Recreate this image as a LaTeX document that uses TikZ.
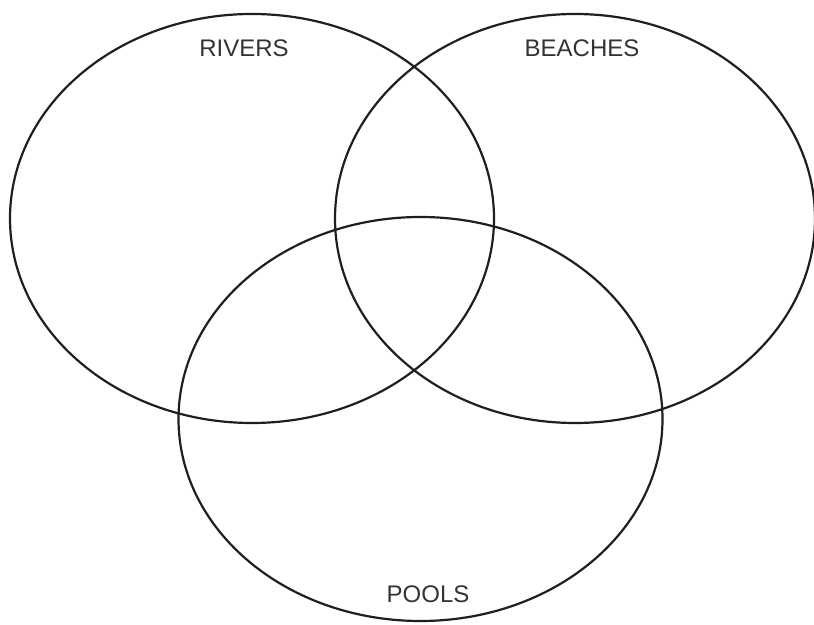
\documentclass[tikz,border=0pt]{standalone}
\usepackage{fontspec}
\setmainfont{Liberation Sans}
\begin{document}
\begin{tikzpicture}[x=1pt,y=1pt,
  setline/.style={draw=black!88,line width=2.2pt},
  lbl/.style={font=\fontsize{24}{27}\selectfont, text=black!80, inner sep=0pt}]
\useasboundingbox (0,0) rectangle (814,624);
\draw[setline] (252,{624-218.5}) ellipse [x radius=242, y radius=204.5];
\draw[setline] (575,{624-218.5}) ellipse [x radius=240, y radius=204.5];
\draw[setline] (420.5,{624-419}) ellipse [x radius=242, y radius=202];
\node[lbl] (rivers) at (244,{624-48}) {RIVERS};
\node[lbl] (beaches) at (582,{624-48}) {BEACHES};
\node[lbl] (pools) at (428,{624-594}) {POOLS};
\end{tikzpicture}
\end{document}
